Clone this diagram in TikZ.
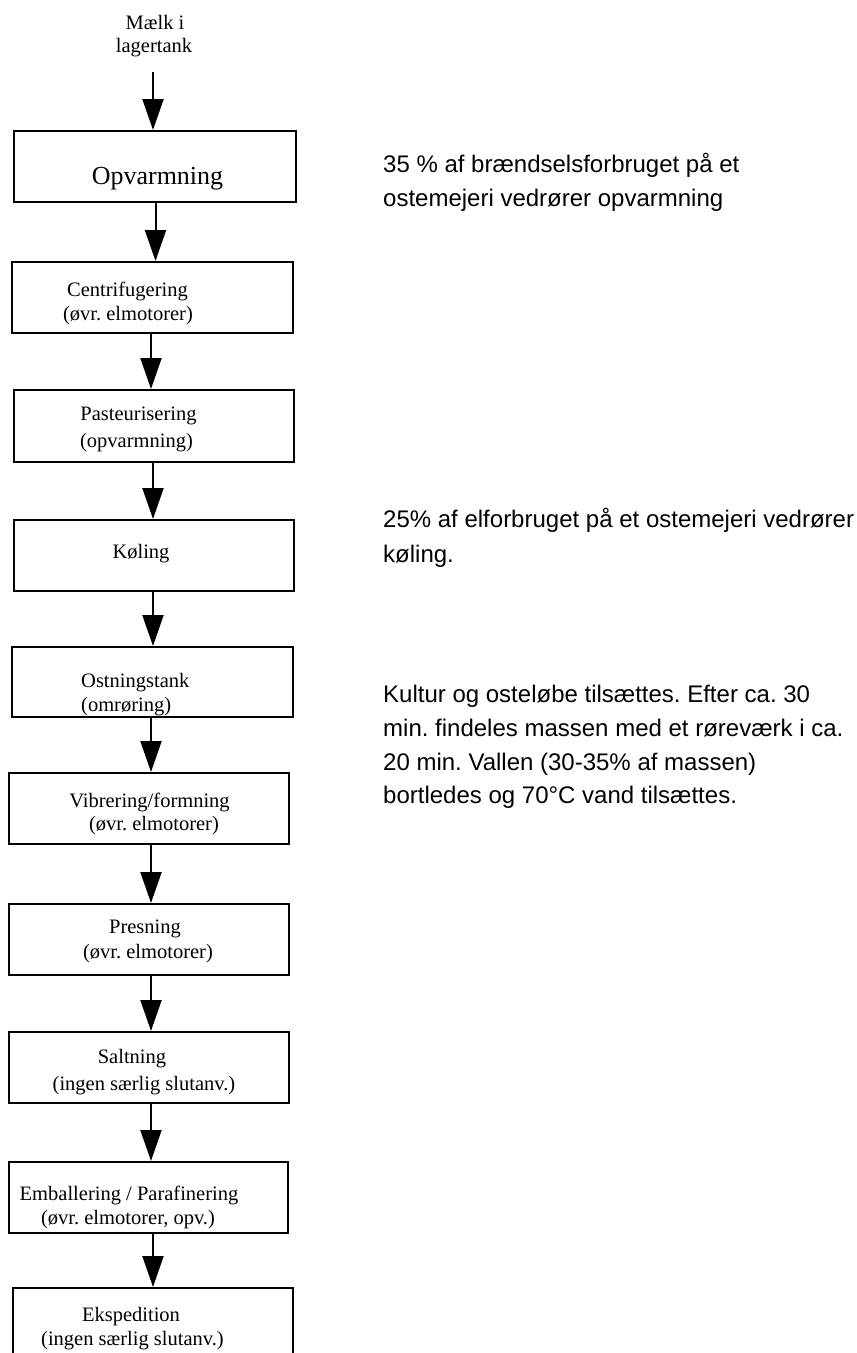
\documentclass[tikz,border=0pt]{standalone}
\usepackage{fontspec}
\setmainfont{Liberation Serif}
\newfontfamily\notefont{Liberation Sans}
\usetikzlibrary{arrows.meta}
\frenchspacing
\begin{document}
\begin{tikzpicture}[x=1pt,y=-1pt,
  stepbox/.style={draw=black,line width=2pt,inner sep=0pt,minimum width=#1},
  lbl/.style={inner sep=0pt,anchor=base,font=\fontsize{20.5}{25}\selectfont},
  lblw/.style={inner sep=0pt,anchor=base west,font=\fontsize{20.5}{25}\selectfont},
  note/.style={inner sep=0pt,anchor=base west,font=\notefont\fontsize{24}{34}\selectfont},
  arr/.style={line width=2pt,-{Triangle[width=21pt,length=31pt]}}]
\path[use as bounding box] (0,0) rectangle (857,1353);
\begin{scope}
\clip (0,0) rectangle (857,1353);
% boxes
\node[stepbox=282,minimum height=71] (b1) at (155,166.5) {};
\node[stepbox=281,minimum height=71] (b2) at (152.5,297.5) {};
\node[stepbox=280,minimum height=72] (b3) at (154,426) {};
\node[stepbox=280,minimum height=71] (b4) at (154,555.5) {};
\node[stepbox=281,minimum height=70] (b5) at (152.5,682) {};
\node[stepbox=280,minimum height=71] (b6) at (149,808.5) {};
\node[stepbox=280,minimum height=71] (b7) at (149,939.5) {};
\node[stepbox=280,minimum height=71] (b8) at (149,1067.5) {};
\node[stepbox=279,minimum height=71] (b9) at (148.5,1197.5) {};
\node[stepbox=280,minimum height=100] (b10) at (153,1338) {};
% labels
\node[lbl] (t0a) at (155,29) {Mælk i};
\node[lbl] (t0b) at (154,52) {lagertank};
\node[lbl,font=\fontsize{26}{31}\selectfont] (t1) at (157.5,184) {Opvarmning};
\node[lbl] (t2a) at (127.5,296) {Centrifugering};
\node[lbl] (t2b) at (128,320) {(øvr. elmotorer)};
\node[lbl] (t3a) at (138.5,420) {Pasteurisering};
\node[lbl] (t3b) at (136.5,447) {(opvarmning)};
\node[lbl] (t4) at (141,558) {Køling};
\node[lblw] (t5a) at (81,687) {Ostningstank};
\node[lblw] (t5b) at (81,711) {(omrøring)};
\node[lbl] (t6a) at (149.5,807) {Vibrering/formning};
\node[lbl] (t6b) at (154,830) {(øvr. elmotorer)};
\node[lbl] (t7a) at (145,933) {Presning};
\node[lbl] (t7b) at (148,958) {(øvr. elmotorer)};
\node[lbl] (t8a) at (132,1063) {Saltning};
\node[lbl] (t8b) at (144,1090) {(ingen særlig slutanv.)};
\node[lbl] (t9a) at (129,1200) {Emballering / Parafinering};
\node[lbl] (t9b) at (128,1224) {(øvr. elmotorer, opv.)};
\node[lbl] (t10a) at (131,1321) {Ekspedition};
\node[lbl] (t10b) at (132.5,1345) {(ingen særlig slutanv.)};
% notes
\node[note] (n1a) at (383,172) {35 \% af brændselsforbruget på et};
\node[note] (n1b) at (383,206) {ostemejeri vedrører opvarmning};
\node[note] (n2a) at (383,527) {25\% af elforbruget på et ostemejeri vedrører};
\node[note] (n2b) at (383,562) {køling.};
\node[note] (n3a) at (383,702) {Kultur og osteløbe tilsættes. Efter ca. 30};
\node[note] (n3b) at (383,736) {min. findeles massen med et røreværk i ca.};
\node[note] (n3c) at (383,770) {20 min. Vallen (30-35\% af massen)};
\node[note] (n3d) at (383,803) {bortledes og 70°C vand tilsættes.};
% arrows
\coordinate (s0) at (153,72);
\draw[arr] (s0) -- ([xshift=-2pt]b1.north);
\draw[arr] ([xshift=0.5pt]b1.south) -- ([xshift=3pt]b2.north);
\draw[arr] ([xshift=-1.5pt]b2.south) -- ([xshift=-3pt]b3.north);
\draw[arr] ([xshift=-1pt]b3.south) -- ([xshift=-1pt]b4.north);
\draw[arr] ([xshift=-1pt]b4.south) -- ([xshift=0.5pt]b5.north);
\draw[arr] ([xshift=-1.5pt]b5.south) -- ([xshift=2pt]b6.north);
\draw[arr] ([xshift=2pt]b6.south) -- ([xshift=2pt]b7.north);
\draw[arr] ([xshift=2pt]b7.south) -- ([xshift=2pt]b8.north);
\draw[arr] ([xshift=2pt]b8.south) -- ([xshift=2.5pt]b9.north);
\draw[arr] ([xshift=4.5pt]b9.south) -- ([xshift=0pt]b10.north);
\end{scope}
\end{tikzpicture}
\end{document}
